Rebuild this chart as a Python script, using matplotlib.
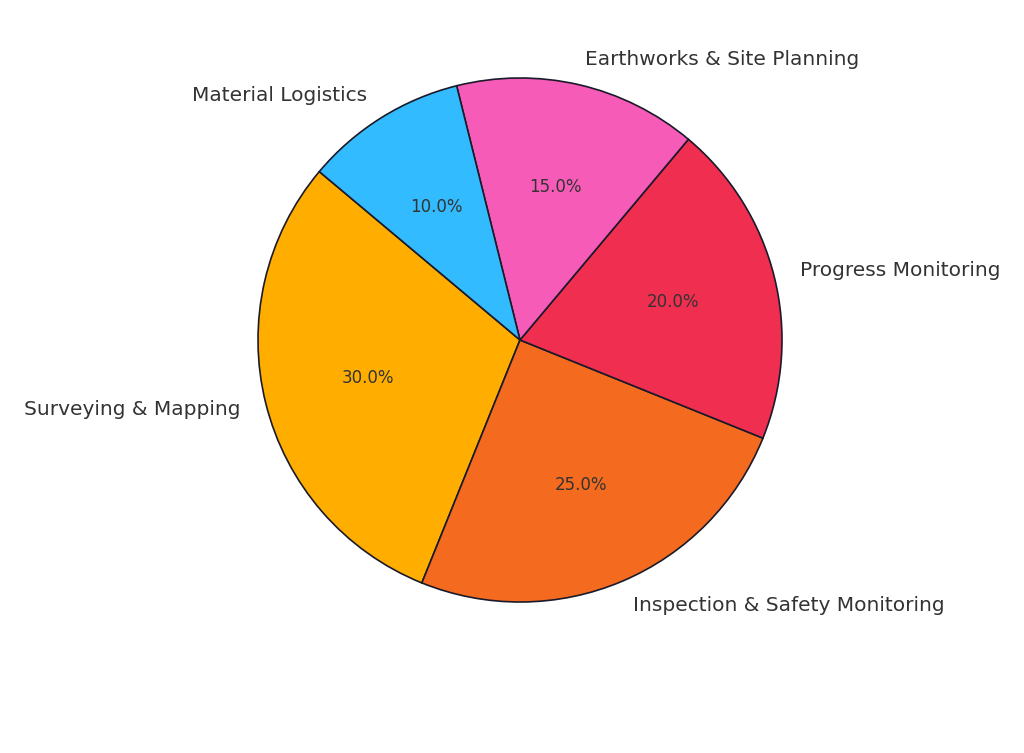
import matplotlib
matplotlib.use("Agg")
import matplotlib.pyplot as plt

categories = ["Surveying & Mapping", "Inspection & Safety Monitoring", "Progress Monitoring",
              "Earthworks & Site Planning", "Material Logistics"]
values = [30, 25, 20, 15, 10]
colors = ["#FFAE00", "#F46B20", "#F02E50", "#F75BB8", "#33BBFF"]

fig = plt.figure(figsize=(10.24, 7.53), dpi=100)
W, H = 1024, 753
cx, cy, r = 520, 340, 262
ax = fig.add_axes([(cx - r) / W, (H - cy - r) / H, 2 * r / W, 2 * r / H])
wedges, texts, autotexts = ax.pie(values, labels=categories, colors=colors, startangle=140,
                                  autopct="%1.1f%%",
                                  wedgeprops=dict(edgecolor="#1a1a2a", linewidth=1.2),
                                  textprops=dict(color="#333333"))
for t in texts:
    t.set_fontsize(14.5)
for t in autotexts:
    t.set_fontsize(12)
ax.set_xlim(-1, 1)
ax.set_ylim(-1, 1)
ax.set_aspect("equal")
fig.savefig("out.png", dpi=100, facecolor="white")
